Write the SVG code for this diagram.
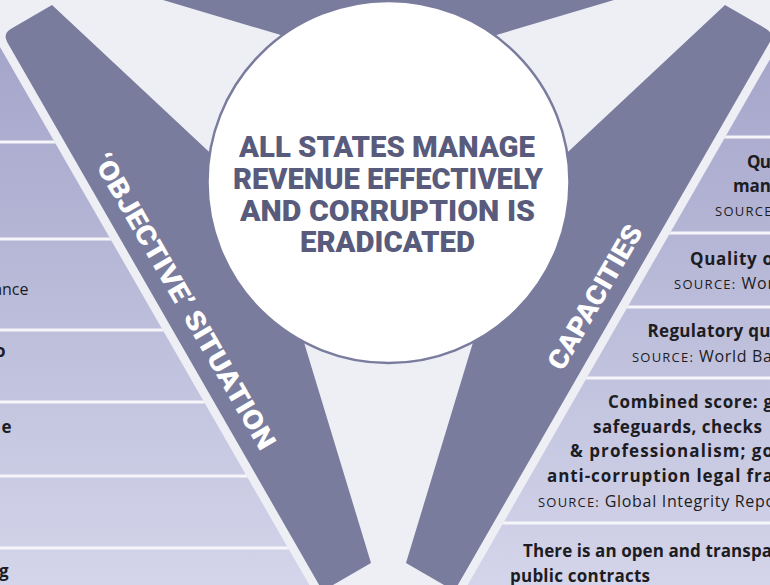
<svg xmlns="http://www.w3.org/2000/svg" width="770" height="585" viewBox="0 0 770 585">
<defs>
<linearGradient id="panelGrad" gradientUnits="userSpaceOnUse" x1="0" y1="47" x2="0" y2="585">
<stop offset="0" stop-color="#a4a5ca"/>
<stop offset="1" stop-color="#d4d5ea"/>
</linearGradient>
<clipPath id="clipL"><polygon points="-10,47 0,47 318,600 -10,600"/></clipPath>
<clipPath id="clipR"><polygon points="780,47 777,47 459,600 780,600"/></clipPath>
<style>
.band{fill:#7a7c9e}
.sep{stroke:#f6f6fa;stroke-width:3}
.b{font-family:"Open Sans","Noto Sans",sans-serif;font-weight:700;font-size:17px;fill:#1c1c22}
.r{font-family:"Open Sans","Noto Sans",sans-serif;font-weight:400;font-size:16px;fill:#1c1c22}
.sc{font-size:13px;letter-spacing:0.5px}
.hubt{font-family:Roboto,"Liberation Sans",sans-serif;font-weight:900;font-size:30px;fill:#585b7b}
.lbl{font-family:Roboto,"Liberation Sans",sans-serif;font-weight:900;font-size:27px;fill:#ffffff}
.end{text-anchor:end}
</style>
</defs>
<rect width="770" height="585" fill="#eeeff5"/>

<g id="panels-left" clip-path="url(#clipL)">
<rect x="-10" y="47" width="340" height="560" fill="url(#panelGrad)"/>
<line class="sep" x1="-10" y1="142" x2="330" y2="142"/>
<line class="sep" x1="-10" y1="239" x2="330" y2="239"/>
<line class="sep" x1="-10" y1="330" x2="330" y2="330"/>
<line class="sep" x1="-10" y1="402" x2="330" y2="402"/>
<line class="sep" x1="-10" y1="476" x2="330" y2="476"/>
<line class="sep" x1="-10" y1="548" x2="330" y2="548"/>
</g>
<g id="panels-left-text">
<text class="r end" x="28.5" y="295">ance</text>
<text class="b end" x="5.5" y="357">o</text>
<text class="b end" x="11.5" y="433">e</text>
<text class="b end" x="8.5" y="577">g</text>
</g>

<g id="panels-right" clip-path="url(#clipR)">
<rect x="440" y="47" width="340" height="560" fill="url(#panelGrad)"/>
<line class="sep" x1="440" y1="137" x2="780" y2="137"/>
<line class="sep" x1="440" y1="233" x2="780" y2="233"/>
<line class="sep" x1="440" y1="307" x2="780" y2="307"/>
<line class="sep" x1="440" y1="378" x2="780" y2="378"/>
<line class="sep" x1="440" y1="523" x2="780" y2="523"/>
</g>
<g id="panels-right-text">
<text class="b" x="747" y="168" textLength="24">Qu</text>
<text class="b" x="733" y="192" textLength="38">man</text>
<text class="r" x="715" y="216" textLength="57"><tspan class="sc">SOURCE</tspan></text>
<text class="b" x="690" y="265" textLength="83">Quality o</text>
<text class="r" x="674" y="289" textLength="100"><tspan class="sc">SOURCE:</tspan> Wor</text>
<text class="b" x="647.5" y="337" textLength="123">Regulatory qu</text>
<text class="r" x="632" y="362" textLength="140"><tspan class="sc">SOURCE:</tspan> World Ba</text>
<text class="b" x="608" y="408" textLength="165">Combined score: g</text>
<text class="b" x="593" y="433" textLength="169">safeguards, checks</text>
<text class="b" x="570" y="457" textLength="203">&amp; professionalism; go</text>
<text class="b" x="547" y="482" textLength="226">anti-corruption legal fra</text>
<text class="r" x="538" y="507" textLength="237"><tspan class="sc">SOURCE:</tspan> Global Integrity Repo</text>
<text class="b" x="523" y="557" textLength="249">There is an open and transpa</text>
<text class="b" x="510" y="582" textLength="140">public contracts</text>
</g>

<g id="band-top">
<polygon class="band" points="139.5,-7 388.5,67.2 637.5,-7"/>
</g>
<g id="band-objective">
<path class="band" d="M52,5 L300,237 L279,260 L371,563 L322.6,591 L7.4,42.4 Q2.4,33.7 11.1,28.7 Z"/>
<text class="lbl" transform="translate(92,160) rotate(60)" textLength="337" lengthAdjust="spacingAndGlyphs">‘OBJECTIVE’ SITUATION</text>
</g>
<g id="band-capacities">
<path class="band" d="M725,5 L477,237 L498,260 L406,563 L454.4,591 L769.6,42.4 Q774.6,33.7 765.9,28.7 Z"/>
<text class="lbl" transform="translate(562.5,372) rotate(-60)" textLength="162" lengthAdjust="spacingAndGlyphs">CAPACITIES</text>
</g>

<g id="hub">
<circle cx="388.5" cy="182" r="181" fill="#ffffff" stroke="#7a7c9e" stroke-width="2.5"/>
<text class="hubt" x="239" y="157" textLength="296" lengthAdjust="spacingAndGlyphs">ALL STATES MANAGE</text>
<text class="hubt" x="233" y="189" textLength="310" lengthAdjust="spacingAndGlyphs">REVENUE EFFECTIVELY</text>
<text class="hubt" x="240" y="220.5" textLength="295" lengthAdjust="spacingAndGlyphs">AND CORRUPTION IS</text>
<text class="hubt" x="300" y="252" textLength="175" lengthAdjust="spacingAndGlyphs">ERADICATED</text>
</g>
</svg>
